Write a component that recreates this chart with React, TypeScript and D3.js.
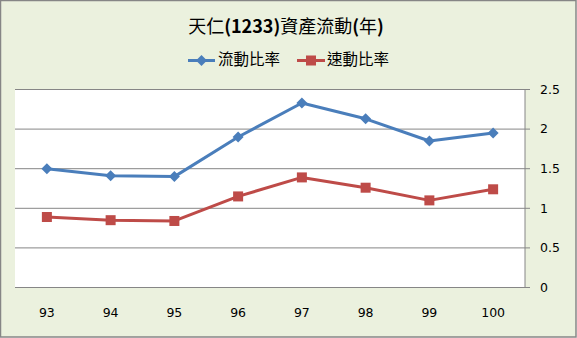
import React from "react";
import * as d3 from "d3";

const categories = ["93", "94", "95", "96", "97", "98", "99", "100"];
const currentRatio = [1.5, 1.41, 1.4, 1.9, 2.33, 2.13, 1.85, 1.95];
const quickRatio = [0.89, 0.85, 0.84, 1.15, 1.39, 1.26, 1.1, 1.24];
const yTicks = [0, 0.5, 1, 1.5, 2, 2.5];
const title = "天仁(1233)資產流動(年)";
const seriesNames = ["流動比率", "速動比率"];

const W = 577, H = 338;
const plot = { left: 15, right: 525, top: 89.5, bottom: 287.5 };
const BLUE = "#4A7EBB";
const RED = "#BE4B48";

export default function App() {
  const x = d3.scaleBand<string>().domain(categories).range([plot.left, plot.right]);
  const y = d3.scaleLinear().domain([0, 2.5]).range([plot.bottom, plot.top]);
  const cx = (c: string) => (x(c) as number) + x.bandwidth() / 2;
  const line = d3
    .line<number>()
    .x((_, i) => cx(categories[i]))
    .y((d) => y(d));

  const font = "Tahoma, 'DejaVu Sans', sans-serif";
  const cjk = "'Noto Sans CJK TC', 'Noto Sans CJK SC', sans-serif";
  const titleRuns = title.match(/[\x00-\x7F]+|[^\x00-\x7F]+/g) || [];

  return (
    <svg
      width={W}
      height={H}
      style={{ position: "absolute", left: 0, top: 0 }}
      xmlns="http://www.w3.org/2000/svg"
    >
      <rect x={0.5} y={0.5} width={W - 1.5} height={H - 1.5} fill="#EBF1DE" stroke="#868686" strokeWidth={1.5} />
      <rect x={plot.left} y={plot.top} width={plot.right - plot.left} height={plot.bottom - plot.top} fill="#ffffff" />
      {yTicks.map((t) => (
        <g key={t}>
          <line x1={plot.left} x2={plot.right + 5} y1={y(t)} y2={y(t)} stroke="#868686" strokeWidth={1} />
          <text x={540} y={y(t)} dy="0.35em" fontFamily={font} fontSize={12.5} fill="#000">
            {t}
          </text>
        </g>
      ))}
      <line x1={plot.right} x2={plot.right} y1={plot.top} y2={plot.bottom} stroke="#868686" strokeWidth={1} />
      {categories.map((c) => (
        <text key={c} x={cx(c)} y={313} dy="0.35em" textAnchor="middle" fontFamily={font} fontSize={12.5} fill="#000">
          {c}
        </text>
      ))}
      <path d={line(currentRatio) as string} fill="none" stroke={BLUE} strokeWidth={3} strokeLinejoin="round" />
      <path d={line(quickRatio) as string} fill="none" stroke={RED} strokeWidth={3} strokeLinejoin="round" />
      {currentRatio.map((v, i) => {
        const px = cx(categories[i]);
        const py = y(v);
        const s = 5.5;
        return (
          <path key={"b" + i} d={`M${px},${py - s}L${px + s},${py}L${px},${py + s}L${px - s},${py}Z`} fill={BLUE} />
        );
      })}
      {quickRatio.map((v, i) => {
        const px = cx(categories[i]);
        const py = y(v);
        const s = 5;
        return <rect key={"r" + i} x={px - s} y={py - s} width={2 * s} height={2 * s} fill={RED} />;
      })}
      <text x={286} y={27} dy="0.35em" textAnchor="middle" fontFamily={cjk} fontSize={18} fill="#000">
        {titleRuns.map((r, i) => (
          <tspan key={i} fontWeight={/^[\x00-\x7F]+$/.test(r) ? 700 : 400}>
            {r}
          </tspan>
        ))}
      </text>
      <g>
        <line x1={188} x2={215} y1={60.5} y2={60.5} stroke={BLUE} strokeWidth={3} />
        <path d="M201.5,55L207,60.5L201.5,66L196,60.5Z" fill={BLUE} />
        <text x={218} y={60} dy="0.35em" fontFamily={cjk} fontSize={15.5} fill="#000">
          {seriesNames[0]}
        </text>
        <line x1={297} x2={325} y1={60.5} y2={60.5} stroke={RED} strokeWidth={3} />
        <rect x={306} y={55.5} width={10} height={10} fill={RED} />
        <text x={327} y={60} dy="0.35em" fontFamily={cjk} fontSize={15.5} fill="#000">
          {seriesNames[1]}
        </text>
      </g>
    </svg>
  );
}
